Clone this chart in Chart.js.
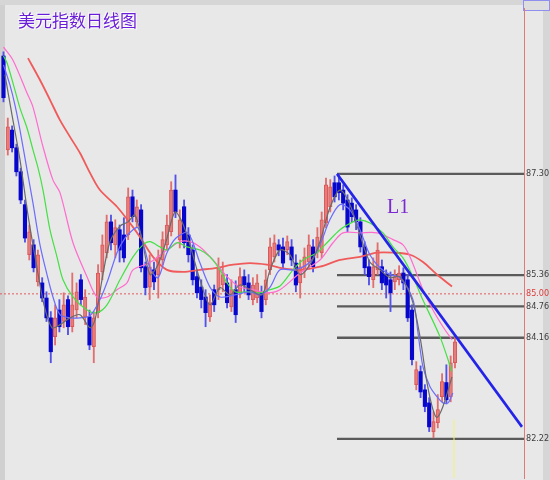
<!DOCTYPE html>
<html>
<head>
<meta charset="utf-8">
<script src="https://cdn.jsdelivr.net/npm/chart.js@4.4.0/dist/chart.umd.min.js"></script>
<style>
  html, body { margin: 0; padding: 0; }
  body { width: 550px; height: 480px; background: #e8e8e8; position: relative; overflow: hidden; }
  #frameL { position: absolute; left: 0; top: 0; width: 5px; height: 480px; background: #d0d0d0; }
  #frameT { position: absolute; left: 0; top: 0; width: 550px; height: 5px; background: #d6d6d6; }
  #frameR { position: absolute; left: 543px; top: 10px; width: 7px; height: 470px; background: #d6d6d6; }
  #boxR { position: absolute; left: 523px; top: 0; width: 27px; height: 11px; border: 1px solid #8f8ff0; background: #dedede; box-sizing: border-box; }
  canvas { position: absolute; left: 0; top: 0; }
  #title { position: absolute; left: 18px; top: 11px; font-family: "Noto Sans CJK SC", sans-serif; font-size: 17px; line-height: 1; color: #6a1ed8; text-shadow: 1px 1px 1px #fff, -1px -1px 1px #fff; }
  #l1 { position: absolute; left: 387px; top: 196px; font-family: "Liberation Serif", serif; font-size: 20px; line-height: 1; color: #7a2ad0; }
</style>
</head>
<body>
<div id="frameL"></div>
<div id="frameT"></div>
<div id="frameR"></div>
<div id="boxR"></div>
<canvas id="chart" width="550" height="480"></canvas>
<div id="title">美元指数日线图</div>
<div id="l1">L1</div>
<script>
// daily candles, one per slot
const open  = [89.56,87.76,88.14,87.80,87.34,86.71,85.75,85.94,85.23,85.21,84.92,84.54,84.18,84.69,84.47,84.89,84.37,84.69,85.27,84.56,
               84.56,83.99,84.64,85.42,85.79,86.38,85.94,86.23,86.13,86.13,86.86,86.38,86.61,85.52,85.13,85.46,85.37,85.65,85.94,86.19,
               86.99,86.04,86.67,86.13,85.84,85.33,85.13,84.94,84.56,85.08,85.08,85.17,85.21,84.75,85.08,85.02,85.33,85.21,84.89,84.92,
               85.02,84.89,85.46,85.71,85.94,85.90,85.84,85.90,85.59,85.21,85.46,85.61,85.90,85.80,85.79,86.36,86.67,87.13,87.13,86.99,
               86.80,86.74,86.61,86.38,85.90,85.52,85.27,85.46,85.52,85.37,85.27,85.23,85.27,85.40,85.27,84.69,83.26,83.51,83.16,82.91,
               82.36,82.53,83.03,83.30,83.03,83.68];
const high  = [89.64,88.37,88.22,87.87,87.41,86.80,86.32,86.04,85.84,85.31,85.04,84.66,84.79,84.89,85.02,84.96,85.40,85.21,85.37,85.08,
               84.69,84.66,85.56,86.13,86.51,86.51,86.42,86.32,86.46,87.03,86.99,86.80,86.71,85.61,85.75,85.61,85.84,86.19,86.51,87.15,
               87.28,86.61,86.80,86.27,85.94,85.46,85.27,85.08,84.98,85.17,85.69,85.61,85.37,85.27,85.25,85.50,85.46,85.37,85.31,85.37,
               85.15,85.46,86.07,86.13,86.04,86.07,86.11,86.04,85.75,85.65,85.88,86.13,86.04,86.27,86.57,87.22,87.19,87.26,87.30,87.09,
               86.90,86.84,86.71,86.46,86.00,85.65,85.69,85.98,85.65,85.46,85.42,85.46,85.54,85.50,85.37,84.79,83.70,83.62,83.26,83.01,
               82.74,83.07,83.47,83.64,83.81,84.20];
const low   = [88.68,87.66,87.72,87.26,86.73,85.99,85.65,85.42,85.15,84.85,84.47,83.68,84.02,84.27,84.35,84.22,84.27,84.54,84.79,84.41,
               83.93,83.68,84.54,85.27,85.69,85.84,85.69,85.61,85.61,86.04,86.38,86.27,85.42,84.98,84.89,85.08,84.92,85.56,85.84,86.11,
               86.46,85.88,85.88,85.61,85.17,84.92,84.73,84.37,84.47,84.66,84.89,85.04,84.73,84.66,84.45,84.92,85.04,84.89,84.79,84.83,
               84.54,84.79,85.37,85.61,85.73,85.50,85.75,85.54,85.04,84.92,85.31,85.50,85.42,85.69,85.69,86.27,86.57,86.76,86.80,86.61,
               86.19,86.38,86.23,85.80,85.37,85.17,85.12,85.37,85.08,84.92,84.66,85.08,85.17,85.08,84.47,83.64,83.16,83.01,82.74,82.36,
               82.24,82.43,82.93,82.89,82.93,83.58];
const close = [88.76,88.20,87.80,87.34,86.80,86.07,86.19,85.50,85.75,84.92,84.54,83.89,84.54,84.37,84.79,84.37,84.79,85.04,84.89,84.94,
               84.02,84.54,85.40,85.94,86.38,85.98,86.27,85.84,85.69,86.86,86.48,86.67,85.50,85.12,85.52,85.23,85.71,86.04,86.32,86.99,
               86.57,86.42,85.98,85.75,85.27,85.02,84.89,84.64,84.83,84.79,85.52,85.37,84.83,85.08,84.60,85.33,85.17,84.98,85.17,85.21,
               84.66,85.27,85.90,85.98,85.84,85.59,86.00,85.65,85.17,85.52,85.71,85.94,85.52,86.09,86.42,87.09,87.05,86.86,86.94,86.74,
               86.28,86.48,86.38,85.90,85.50,85.33,85.52,85.84,85.21,85.17,85.02,85.33,85.40,85.21,84.54,83.74,83.55,83.12,82.84,82.45,
               82.55,82.78,83.32,82.97,83.68,84.08];

// moving averages: [slot, price]
const ma5 = [[0.35,89.20],[1.98,88.43],[3.84,87.57],[5.70,86.51],[7.56,85.61],[9.42,84.79],[11.28,84.35],[13.14,84.41],[15.47,84.54],
             [17.79,84.60],[20.12,84.35],[21.28,84.50],[22.91,85.27],[24.77,86.00],[27.09,86.30],[28.95,86.38],[30.58,86.51],[32.21,86.04],
             [34.07,85.37],[35.93,85.56],[37.79,86.00],[39.88,86.57],[41.51,86.38],[43.37,85.94],[45.70,85.27],[48.02,84.79],[50.35,85.12],
             [52.67,84.98],[55.00,85.17],[57.33,85.08],[60.12,84.98],[62.00,85.46],[64.30,85.84],[66.60,85.75],[68.95,85.37],[71.28,85.56],
             [73.60,86.00],[75.90,86.65],[78.26,86.99],[80.58,86.71],[82.90,86.13],[85.20,85.61],[87.56,85.46],[89.90,85.31],[92.20,85.33],
             [95.00,84.89],[96.86,84.18],[98.49,83.30],[99.88,82.78],[100.8,82.63],[102.2,82.84],[104.3,83.41]];
const ma10 = [[0,89.39],[1.51,89.00],[2.67,88.62],[3.84,88.14],[5.47,87.38],[6.86,86.74],[8.49,85.94],[10.12,85.37],[11.51,84.94],
              [13.14,84.60],[15.47,84.54],[17.79,84.54],[20.12,84.58],[22.44,84.89],[24.30,85.27],[26.40,85.79],[28.26,86.07],[30.12,86.23],
              [31.28,86.27],[32.91,85.84],[34.07,85.50],[35.93,85.31],[38.02,85.79],[40.12,86.07],[42.91,86.17],[45.70,85.59],[48.02,85.13],
              [50.35,84.94],[53.84,84.98],[57.33,85.04],[59.65,84.98],[62.00,85.13],[64.30,85.46],[67.80,85.46],[71.28,85.61],[73.60,85.94],
              [75.90,86.42],[78.26,86.71],[80.58,86.61],[82.90,86.23],[85.20,85.75],[87.56,85.50],[89.90,85.37],[92.20,85.31],[95.23,84.89],
              [96.40,84.25],[97.56,83.60],[99.20,83.22],[100.8,83.03],[102.2,82.91],[103.4,82.91],[104.5,83.10]];
const ma20 = [[0,89.56],[0.81,89.43],[2.21,89.04],[3.84,88.56],[5.47,88.18],[6.86,87.76],[8.02,87.42],[9.19,86.99],[10.81,86.23],
              [12.44,85.71],[13.84,85.27],[16.16,84.94],[19.42,84.69],[21.74,84.64],[24.07,84.79],[27.09,85.27],[30.12,85.71],[32.44,85.94],
              [34.07,86.00],[36.40,85.90],[38.02,85.84],[40.35,85.98],[42.67,85.90],[45.70,85.84],[48.02,85.71],[50.35,85.46],[51.98,85.21],
              [53.84,85.04],[56.63,85.04],[59.65,85.02],[62.00,85.08],[64.30,85.15],[67.33,85.46],[69.65,85.65],[72.91,85.79],[75.23,85.98],
              [78.26,86.23],[81.28,86.38],[82.91,86.42],[85.23,86.36],[88.26,86.17],[90.58,85.90],[92.91,85.69],[95.23,85.33],[97.33,84.92],
              [101.5,84.18],[104.3,83.51]];
const ma30 = [[0,89.73],[2.21,89.48],[5.47,88.85],[6.86,88.58],[9.19,87.82],[11.51,87.18],[13.14,86.94],[16.16,85.98],[19.42,85.33],
              [21.74,84.94],[24.07,84.94],[26.40,85.08],[28.72,85.21],[30.12,85.46],[34.07,85.60],[38.02,85.84],[41.05,86.00],[43.37,86.00],
              [45.70,85.90],[48.72,85.65],[51.98,85.33],[55.00,85.13],[58.02,85.08],[61.28,85.02],[64.30,85.08],[68.95,85.40],[73.60,85.65],
              [76.63,85.98],[78.95,86.17],[82.91,86.17],[86.86,86.17],[90.58,86.04],[92.91,85.94],[94.53,85.71],[97.56,85.08],[99.88,84.69],
              [102.2,84.37],[104.3,84.12]];
const ma60 = [[5.70,89.52],[8.49,89.10],[10.81,88.72],[13.14,88.33],[15.47,88.01],[17.79,87.70],[20.12,87.32],[22.44,86.99],[26.40,86.67],
              [30.12,86.28],[31.74,86.09],[34.77,85.71],[38.02,85.46],[41.74,85.42],[45.70,85.46],[49.65,85.50],[53.37,85.56],[57.33,85.59],
              [61.28,85.56],[64.30,85.50],[68.95,85.46],[73.60,85.52],[78.26,85.65],[82.91,85.71],[86.86,85.79],[90.58,85.79],[94.53,85.75],
              [97.56,85.61],[100.8,85.37],[104.3,85.14]];

// drawn lines and right-hand labels
const levels = [87.30, 85.36, 84.76, 84.16, 82.22];
const levelStart = 77.56;
const refLevel = 85.00;
const axisTicks = [87.30, 85.36, 85.00, 84.76, 84.16, 82.22];
const trendL1 = [[77.56, 87.30], [120.58, 82.45]];
const markerX = 104.77;
const markerSpan = [81.47, 82.59];

const xMin = -0.81, xMax = 121.05;
const yMin = 81.47, yMax = 90.48;

const UP_FILL = 'rgba(234,140,140,0.6)', UP_LINE = '#dc5858', UP_WICK = '#e07070';
const DN_FILL = '#0606cc', DN_WICK = '#5252e6';

const isUp = i => close[i] >= open[i];
const pts = arr => arr.map(p => ({ x: p[0], y: p[1] }));

const lineSet = (data, color, width, order, extra) => Object.assign({
  type: 'line', data: data, borderColor: color, borderWidth: width,
  pointRadius: 0, fill: false, tension: 0.3, order: order
}, extra || {});

const datasets = [
  lineSet(pts(trendL1), '#2424e8', 2.6, 0, { tension: 0 }),
  lineSet(pts(ma5), '#6a6a6a', 1.2, 1),
  lineSet(pts(ma10), '#6b6bff', 1.2, 2),
  lineSet(pts(ma20), '#44e044', 1.2, 3),
  lineSet(pts(ma30), '#ff6ccf', 1.2, 4),
  lineSet(pts(ma60), '#f05a5a', 1.8, 5),
  {
    type: 'bar', order: 6, grouped: false, barThickness: 3.5,
    data: open.map((o, i) => ({ x: i, y: [o, close[i]] })),
    backgroundColor: c => isUp(c.dataIndex) ? UP_FILL : DN_FILL,
    borderColor: c => isUp(c.dataIndex) ? UP_LINE : DN_FILL,
    borderWidth: c => isUp(c.dataIndex) ? 1 : 0,
    borderSkipped: false
  },
  {
    type: 'bar', order: 7, grouped: false, barThickness: 1.2,
    data: low.map((l, i) => ({ x: i, y: [l, high[i]] })),
    backgroundColor: c => isUp(c.dataIndex) ? UP_WICK : DN_WICK,
    borderWidth: 0
  },
  lineSet([{ x: xMin, y: refLevel }, { x: xMax, y: refLevel }], '#e05a5a', 1, 8, { tension: 0, borderDash: [2, 2] }),
  lineSet([{ x: markerX, y: markerSpan[0] }, { x: markerX, y: markerSpan[1] }], '#f2f27a', 1, 8, { tension: 0 })
];
levels.forEach(v => {
  datasets.push(lineSet([{ x: levelStart, y: v }, { x: xMax, y: v }], '#5a5a5a', 2.4, 9, { tension: 0 }));
});

new Chart(document.getElementById('chart'), {
  type: 'bar',
  data: { datasets: datasets },
  options: {
    responsive: false,
    animation: false,
    devicePixelRatio: 1,
    events: [],
    layout: { padding: { top: 8, bottom: 2, left: 0, right: 0 } },
    plugins: { legend: { display: false }, tooltip: { enabled: false } },
    scales: {
      x: {
        type: 'linear', min: xMin, max: xMax, display: false, offset: false,
        grid: { display: false, offset: false }
      },
      y: {
        type: 'linear', position: 'right', min: yMin, max: yMax,
        grid: { display: false, drawTicks: false },
        border: { display: true, color: '#e07a7a', width: 1 },
        ticks: {
          padding: 2, autoSkip: false,
          color: c => (c.tick && c.tick.value === refLevel) ? '#e03a3a' : '#3c3c3c',
          font: { family: '"Liberation Sans Narrow", "DejaVu Sans Condensed", sans-serif', size: 9 },
          callback: v => Number(v).toFixed(2)
        },
        afterBuildTicks: s => { s.ticks = axisTicks.map(v => ({ value: v })); },
        afterFit: s => { s.width = 26; s.paddingTop = 0; s.paddingBottom = 0; }
      }
    }
  }
});
</script>
</body>
</html>
